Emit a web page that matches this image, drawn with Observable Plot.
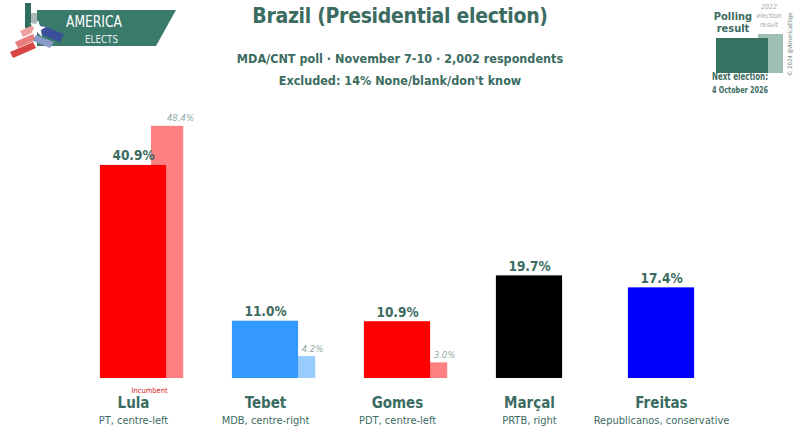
<!DOCTYPE html>
<html><head><meta charset="utf-8">
<script src="https://cdn.jsdelivr.net/npm/d3@7"></script>
<script src="https://cdn.jsdelivr.net/npm/@observablehq/plot@0.6"></script>
<style>
html,body{margin:0;padding:0;background:#fff;}
#wrap{position:relative;width:800px;height:435px;overflow:hidden;font-family:"DejaVu Sans Condensed","DejaVu Sans",sans-serif;}
#chart{position:absolute;left:0;top:0;}
.ov{position:absolute;color:#3b6b61;white-space:nowrap;}
</style></head>
<body>
<div id="wrap">
  <div id="chart"></div>
  <svg class="ov" style="left:0;top:0" width="800" height="100" id="deco">
    <!-- logo -->
    <rect x="31" y="13" width="9" height="17" fill="#a9b8b4"/>
    <rect x="25" y="3" width="6" height="25" fill="#2f6e5f"/>
    <polygon points="37,10 176,10 156,46 37,46" fill="#3a7a6a"/>
    <text x="66" y="27" fill="#fff" font-size="15" font-family="DejaVu Sans Condensed, sans-serif" textLength="56" lengthAdjust="spacingAndGlyphs">AMERICA</text>
    <text x="85" y="43" fill="#e8f0ee" font-size="11" font-family="DejaVu Sans Condensed, sans-serif" textLength="33" lengthAdjust="spacingAndGlyphs">ELECTS</text>
    <polygon points="10,52 33,42 36,48 13,58" fill="#d94444"/>
    <polygon points="15,42 33,34 36,40 18,48" fill="#e77d7d"/>
    <polygon points="20,31 33,25 36,31 23,37" fill="#f0a0a0"/>
    <polygon points="41,25 64,34 60,42 37,33" fill="#3a4f9a"/>
    <polygon points="36,35 54,42 50,48 33,41" fill="#8a9ac8"/>
    <polygon points="38,20 40,26 46,27 41,30 42,37 37,32 31,34 34,28 30,23 36,24" fill="#fff"/>
    <!-- legend -->
    <rect x="758" y="34" width="25" height="39" fill="#9dbdb5"/>
    <rect x="716" y="38" width="52" height="35" fill="#357262"/>
    <text x="733" y="20" text-anchor="middle" fill="#3b6b61" font-size="11" font-weight="bold" font-family="DejaVu Sans Condensed, sans-serif">Polling</text>
    <text x="733" y="32" text-anchor="middle" fill="#3b6b61" font-size="11" font-weight="bold" font-family="DejaVu Sans Condensed, sans-serif">result</text>
    <text x="769" y="9" text-anchor="middle" fill="#9aaba7" font-size="7" font-style="italic" font-family="DejaVu Sans Condensed, sans-serif">2022</text>
    <text x="769" y="18" text-anchor="middle" fill="#9aaba7" font-size="7" font-style="italic" font-family="DejaVu Sans Condensed, sans-serif">election</text>
    <text x="769" y="27" text-anchor="middle" fill="#9aaba7" font-size="7" font-style="italic" font-family="DejaVu Sans Condensed, sans-serif">result</text>
    <text x="712" y="80" fill="#3b6b61" font-size="10" font-weight="bold" font-family="DejaVu Sans Condensed, sans-serif" textLength="56" lengthAdjust="spacingAndGlyphs">Next election:</text>
    <text x="712" y="93" fill="#3b6b61" font-size="8" font-weight="bold" font-family="DejaVu Sans Condensed, sans-serif" textLength="56" lengthAdjust="spacingAndGlyphs">4 October 2026</text>
    <text transform="translate(792,76) rotate(-90)" fill="#6b7f7a" font-size="6" font-family="DejaVu Sans Condensed, sans-serif">© 2024 @AmericaElige</text>
  </svg>
  <div class="ov" style="left:0;width:800px;top:4px;text-align:center;font-size:21px;font-weight:bold;letter-spacing:-0.3px;">Brazil (Presidential election)</div>
  <div class="ov" style="left:0;width:800px;top:51px;text-align:center;font-size:12.5px;font-weight:bold;">MDA/CNT poll · November 7-10 · 2,002 respondents</div>
  <div class="ov" style="left:0;width:800px;top:73px;text-align:center;font-size:12.5px;font-weight:bold;">Excluded: 14% None/blank/don't know</div>
</div>
<script>
const candidates = ["Lula", "Tebet", "Gomes", "Marçal", "Freitas"];
const parties = ["PT, centre-left", "MDB, centre-right", "PDT, centre-left", "PRTB, right", "Republicanos, conservative"];
const poll = [40.9, 11.0, 10.9, 19.7, 17.4];
const result2022 = [48.4, 4.2, 3.0, null, null];
const incumbent = ["Lula"];

const mainColor = {"Lula": "#ff0000", "Tebet": "#3399ff", "Gomes": "#ff0000", "Marçal": "#000000", "Freitas": "#0000ff"};
const paleColor = {"Lula": "#ff8080", "Tebet": "#99ccff", "Gomes": "#ff8080", "Marçal": "#808080", "Freitas": "#8080ff"};

const rows = candidates.map((c, i) => ({name: c, party: parties[i], poll: poll[i], prev: result2022[i]}));
const prevRows = rows.filter(d => d.prev != null);

const teal = "#3b6b61";
const chart = Plot.plot({
  width: 800,
  height: 435,
  margin: 0,
  style: {fontFamily: '"DejaVu Sans Condensed","DejaVu Sans",sans-serif', background: "transparent", overflow: "visible"},
  x: {type: "band", domain: candidates, range: [65, 729], padding: 0, axis: null},
  y: {domain: [0, 50], range: [378, 117.5], axis: null},
  marks: [
    Plot.barY(prevRows, {x: "name", y: "prev", fill: d => paleColor[d.name], insetLeft: 84, insetRight: 15.8}),
    Plot.barY(rows, {x: "name", y: "poll", fill: d => mainColor[d.name], insetLeft: 32.9, insetRight: 32.9}),
    Plot.text(prevRows, {x: "name", y: "prev", text: d => d.prev.toFixed(1) + "%", dx: 47, dy: -5, lineAnchor: "bottom", fill: "#8fa9a3", fontSize: 9.5, fontStyle: "italic"}),
    Plot.text(rows, {x: "name", y: "poll", text: d => d.poll.toFixed(1) + "%", dy: -5, lineAnchor: "bottom", fill: teal, fontSize: 13.5, fontWeight: "bold", letterSpacing: "-0.4px"}),
    Plot.text(rows, {x: "name", y: 0, text: "name", dy: 29, lineAnchor: "bottom", fill: teal, fontSize: 15, fontWeight: "bold"}),
    Plot.text(rows, {x: "name", y: 0, text: "party", dy: 45, lineAnchor: "bottom", fill: teal, fontSize: 11}),
    Plot.text(rows.filter(d => incumbent.includes(d.name)), {x: "name", y: 0, text: () => "Incumbent", dx: 16, dy: 14, lineAnchor: "bottom", fill: "#d92020", fontSize: 7.5})
  ]
});
document.getElementById("chart").appendChild(chart);
</script>
</body></html>
